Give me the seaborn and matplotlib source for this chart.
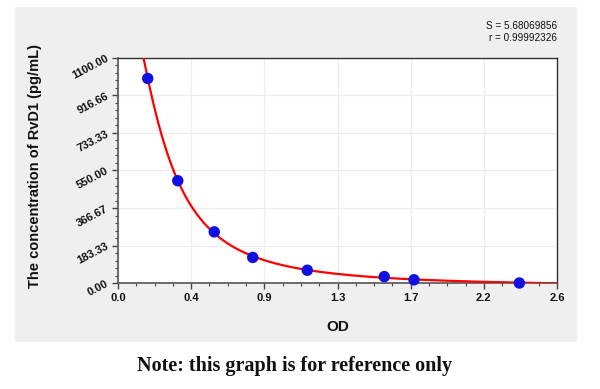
import numpy as np
import pandas as pd
import matplotlib
matplotlib.use("Agg")
import matplotlib.pyplot as plt
from matplotlib.patches import Rectangle
from matplotlib.ticker import FixedLocator, MultipleLocator
import seaborn as sns

# ---- data ----
od = [0.176, 0.354, 0.570, 0.798, 1.121, 1.577, 1.753, 2.377]
conc = [1000.0, 500.0, 250.0, 125.0, 62.5, 31.25, 15.63, 0.0]
x_ticks = [0.0, 2.6 / 6, 2 * 2.6 / 6, 1.3, 4 * 2.6 / 6, 5 * 2.6 / 6, 2.6]
x_labels = ["0.0", "0.4", "0.9", "1.3", "1.7", "2.2", "2.6"]
y_ticks = [0.0, 1100 / 6, 2 * 1100 / 6, 550.0, 4 * 1100 / 6, 5 * 1100 / 6, 1100.0]
y_labels = ["0.00", "183.33", "366.67", "550.00", "733.33", "916.66", "1100.00"]
stats_text = "S = 5.68069856\nr = 0.99992326"
x_title = "OD"
y_title = "The concentration of RvD1 (pg/mL)"
note = "Note: this graph is for reference only"

# ---- 4-parameter logistic fit of the standard points ----
x = np.array(od)
y = np.array(conc)
bs = np.linspace(0.5, 6.0, 221)
cs = np.logspace(-2, 1, 301)
B, C = np.meshgrid(bs, cs, indexing="ij")
G = 1.0 / (1.0 + (x[None, None, :] / C[..., None]) ** B[..., None])
H = 1.0 - G
s_gg = (G * G).sum(-1); s_gh = (G * H).sum(-1); s_hh = (H * H).sum(-1)
s_gy = (G * y).sum(-1); s_hy = (H * y).sum(-1)
det = s_gg * s_hh - s_gh ** 2
det[np.abs(det) < 1e-12] = np.nan
A = (s_gy * s_hh - s_hy * s_gh) / det
D = (s_hy * s_gg - s_gy * s_gh) / det
sse = ((A[..., None] * G + D[..., None] * H - y) ** 2).sum(-1)
i, j = np.unravel_index(np.nanargmin(sse), sse.shape)
a_, d_, b_, c_ = A[i, j], D[i, j], B[i, j], C[i, j]
xf = np.linspace(0.05, 2.6, 600)
yf = d_ + (a_ - d_) / (1.0 + (xf / c_) ** b_)
curve = pd.DataFrame({"OD": xf, "conc": yf})
pts = pd.DataFrame({"OD": od, "conc": conc})

# ---- figure ----
sns.set_theme(style="white")
plt.rcParams["font.family"] = ["Liberation Sans", "DejaVu Sans"]

fig = plt.figure(figsize=(6.0, 3.89), dpi=100)
fig.patch.set_facecolor("white")
fig.add_artist(Rectangle((15 / 600, 1 - 342 / 389), 562 / 600, 335 / 389,
                         transform=fig.transFigure, facecolor="#efefef",
                         edgecolor="none", zorder=0))

ax = fig.add_axes([118 / 600, 1 - 283 / 389, 439 / 600, 225 / 389])
ax.set_facecolor("white")

sns.lineplot(data=curve, x="OD", y="conc", ax=ax, color="#ff0000",
             linewidth=1.6, zorder=3)
sns.scatterplot(data=pts, x="OD", y="conc", ax=ax, color="#1010e0",
                s=68, edgecolor="none", zorder=4, clip_on=False)

ax.set_xlim(0, 2.6)
ax.set_ylim(0, 1100)
ax.xaxis.set_major_locator(FixedLocator(x_ticks))
ax.yaxis.set_major_locator(FixedLocator(y_ticks))
ax.xaxis.set_minor_locator(MultipleLocator(2.6 / 24))
ax.yaxis.set_minor_locator(MultipleLocator(1100 / 30))
ax.set_xticklabels(x_labels, fontsize=8, fontweight="bold", color="#111111")
ax.set_yticklabels(y_labels, fontsize=8, fontweight="bold", color="#111111",
                   rotation=28, ha="right", va="center", rotation_mode="anchor")
ax.tick_params(axis="both", which="major", direction="out", length=4.5,
               width=1.0, color="#444444", bottom=True, left=True)
ax.tick_params(axis="both", which="minor", direction="out", length=2.5,
               width=0.8, color="#444444", bottom=True, left=True)
ax.tick_params(axis="x", which="major", pad=3)
ax.tick_params(axis="y", which="major", pad=3)
ax.grid(True, which="major", color="#ececec", linewidth=0.8)
ax.set_axisbelow(True)
for side in ["left", "bottom"]:
    ax.spines[side].set_color("#555555")
    ax.spines[side].set_linewidth(1.2)
for side in ["top", "right"]:
    ax.spines[side].set_color("#333333")
    ax.spines[side].set_linewidth(1.0)

ax.set_xlabel(x_title, fontsize=11, fontweight="bold", color="#111111",
              labelpad=12)
ax.set_ylabel("")
fig.text(35 / 600, 1 - 166 / 389, y_title, rotation=90, ha="center",
         va="center", fontsize=10.5, fontweight="bold", color="#111111")

fig.text(557 / 600, 1 - 32 / 389, stats_text, ha="right", va="center",
         fontsize=7.2, color="#111111", linespacing=1.15)

fig.text(295 / 600, 1 - 366 / 389, note, ha="center", va="center",
         fontsize=14.5, fontweight="bold", color="#111111",
         family=["Liberation Serif", "DejaVu Serif"])

fig.savefig("out.png", dpi=100, facecolor="white")
